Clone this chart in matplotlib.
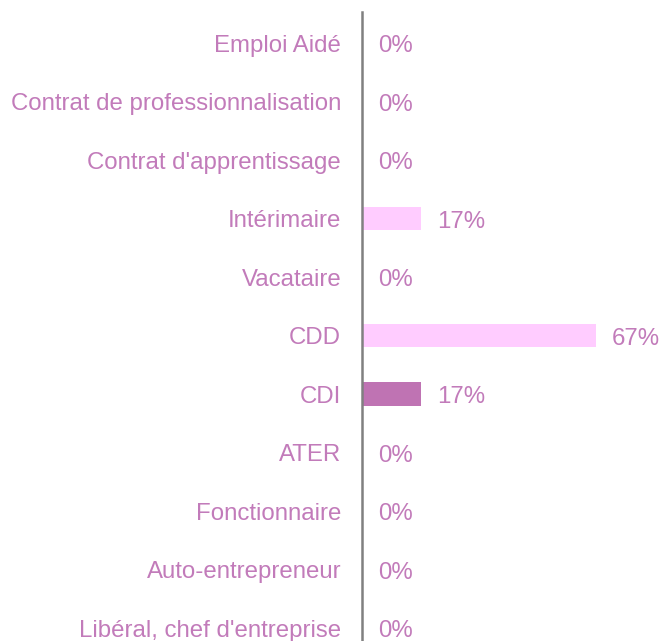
import matplotlib.pyplot as plt

categories = ['Emploi Aidé', 'Contrat de professionnalisation', "Contrat d'apprentissage",
              'Intérimaire', 'Vacataire', 'CDD', 'CDI', 'ATER', 'Fonctionnaire',
              'Auto-entrepreneur', "Libéral, chef d'entreprise"]
values = [0, 0, 0, 17, 0, 67, 17, 0, 0, 0, 0]
bar_colors = ['#FFCCFF'] * 6 + ['#BF73B3'] + ['#FFCCFF'] * 4

text_color = '#C27BBA'
plt.rcParams['font.family'] = ['Liberation Sans', 'DejaVu Sans']

fig = plt.figure(figsize=(6.61, 6.41), dpi=100)
ax = fig.add_axes([362 / 661, 0, 299 / 661, 629 / 641])

pos = list(range(len(categories)))
ax.barh(pos, values, height=0.4, color=bar_colors)
for p, v in zip(pos, values):
    ax.annotate(f'{v}%', (v, p), xytext=(16, -3), textcoords='offset pixels',
                va='center', ha='left', fontsize=17.3, color=text_color)

ax.set_xlim(0, 85.7)
ax.set_ylim(10.22, -0.53)
ax.set_yticks(pos)
ax.set_yticklabels(categories, fontsize=17.3, color=text_color)
ax.tick_params(axis='y', length=0, pad=15)
ax.set_xticks([])
for s in ['top', 'right', 'bottom']:
    ax.spines[s].set_visible(False)
ax.spines['left'].set_color('#808080')
ax.spines['left'].set_linewidth(1.8)

plt.savefig('out.png', dpi=100)
